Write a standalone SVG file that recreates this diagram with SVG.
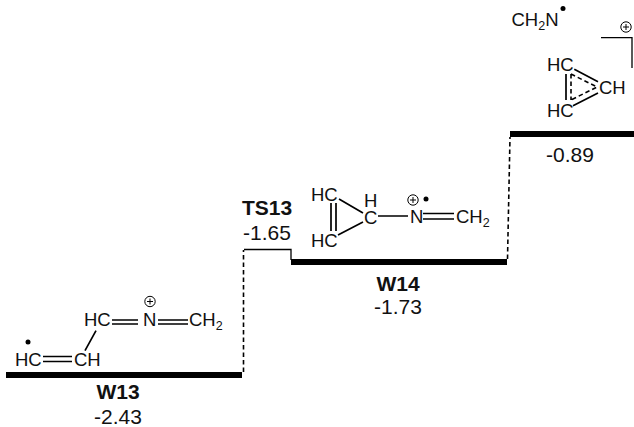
<svg xmlns="http://www.w3.org/2000/svg" width="634" height="427" viewBox="0 0 634 427">
<style>
text{font-family:"Liberation Sans",Arial,sans-serif;fill:#111}
.l{font-size:21px;text-anchor:middle}
.b{font-size:21px;font-weight:bold;text-anchor:middle}
.c{font-size:18.500px}
.s{font-size:12.500px}
.bar{fill:#000}
.bond{stroke:#000;stroke-width:1.700;fill:none}
.dash{stroke:#000;stroke-width:1.600;fill:none;stroke-dasharray:4.500 3}
.thin{stroke:#000;stroke-width:1.300;fill:none}
.dot{fill:#000}
.pc{stroke:#000;stroke-width:1;fill:none}
</style>
<defs>
<g id="plus"><circle class="pc" r="5.200"/><path class="pc" d="M-3 0H3M0-3V3"/></g>
</defs>
<rect width="634" height="427" fill="#fff"/>
<g id="connectors">
<path class="dash" d="M243.500 372V250"/>
<path class="thin" d="M244 249.500H291V260"/>
<path class="dash" d="M507.500 259L510 137"/>
</g>
<g id="W13">
<rect class="bar" x="6" y="372" width="236" height="6"/>
<text class="b" x="118" y="399">W13</text>
<text class="l" x="118" y="424">-2.43</text>
<text class="c" x="84" y="325.500">HC</text>
<text class="c" x="143" y="325.500">N</text>
<text class="c" x="189" y="325.500">CH<tspan class="s" dy="4">2</tspan></text>
<text class="c" x="15" y="366">HC</text>
<text class="c" x="74" y="366">CH</text>
<path class="bond" d="M112 320H138M112 324H138M158 320H188M158 324H188M43 356.500H72M43 361.500H72M96 330.700L85 350.700"/>
<circle class="dot" cx="28" cy="342" r="2.500"/>
<use href="#plus" x="150" y="301.500"/>
</g>
<g id="TS13">
<text class="b" x="267" y="215">TS13</text>
<text class="l" x="267" y="240">-1.65</text>
</g>
<g id="W14">
<rect class="bar" x="291" y="259" width="216" height="6"/>
<text class="b" x="398" y="291">W14</text>
<text class="l" x="398" y="314">-1.73</text>
<text class="c" x="311" y="201">HC</text>
<text class="c" x="311" y="247">HC</text>
<text class="c"><tspan x="364" y="207">H</tspan><tspan x="364" y="224">C</tspan></text>
<text class="c" x="410" y="223">N</text>
<text class="c" x="456" y="223">CH<tspan class="s" dy="4">2</tspan></text>
<path class="bond" d="M331 203V231M336 203V231M339 199L363 213M338 235L363 222M378 216H408M423 213.500H454M423 219H454"/>
<use href="#plus" x="413" y="200"/>
<circle class="dot" cx="426" cy="199" r="2.500"/>
</g>
<g id="W15">
<rect class="bar" x="510" y="131" width="124" height="6"/>
<text class="l" x="570" y="162">-0.89</text>
<text class="c" x="511.500" y="26">CH<tspan class="s" dy="4">2</tspan><tspan dy="-4">N</tspan></text>
<circle class="dot" cx="563" cy="8.500" r="2.500"/>
<use href="#plus" x="626" y="27"/>
<path class="thin" d="M601 37.700H632V68"/>
<text class="c" x="547" y="70.700">HC</text>
<text class="c" x="547" y="116.700">HC</text>
<text class="c" x="599" y="94">CH</text>
<path class="bond" d="M566 74V100M574.300 69.300L598 81.700M573 105.700L598 93"/>
<path class="dash" d="M571 74V100M571 74L597 87L571 100"/>
</g>
</svg>
